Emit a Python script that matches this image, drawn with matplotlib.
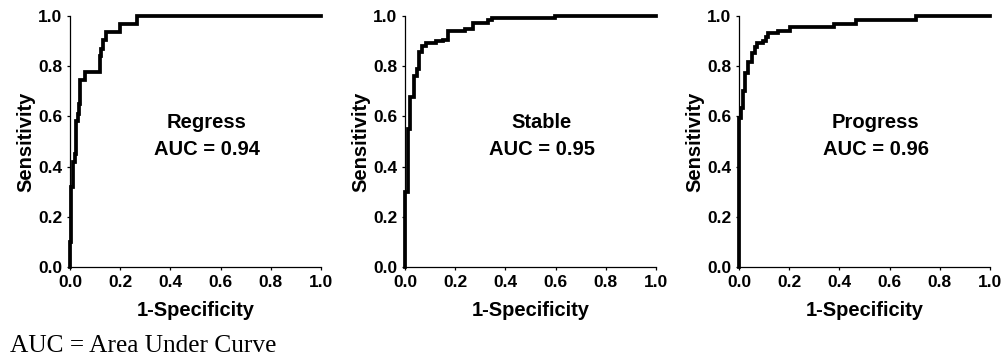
import numpy as np
import matplotlib.pyplot as plt

# ROC curves (1-specificity, sensitivity)
regress_fpr = [0, 0, 0.005, 0.005, 0.01, 0.01, 0.02, 0.02, 0.025, 0.025, 0.03, 0.03,
               0.035, 0.035, 0.04, 0.04, 0.06, 0.06, 0.12, 0.12, 0.125, 0.125, 0.13,
               0.13, 0.145, 0.145, 0.2, 0.2, 0.265, 0.265, 1.0]
regress_tpr = [0, 0.1, 0.1, 0.32, 0.32, 0.42, 0.42, 0.45, 0.45, 0.58, 0.58, 0.61,
               0.61, 0.65, 0.65, 0.745, 0.745, 0.775, 0.775, 0.84, 0.84, 0.87, 0.87,
               0.905, 0.905, 0.935, 0.935, 0.968, 0.968, 1.0, 1.0]

stable_fpr = [0, 0, 0.01, 0.01, 0.02, 0.02, 0.036, 0.036, 0.046, 0.046, 0.057, 0.057,
              0.066, 0.066, 0.082, 0.082, 0.124, 0.124, 0.15, 0.15, 0.173, 0.173,
              0.239, 0.239, 0.272, 0.272, 0.332, 0.332, 0.345, 0.345, 0.598, 0.598, 1.0]
stable_tpr = [0, 0.3, 0.3, 0.55, 0.55, 0.678, 0.678, 0.76, 0.76, 0.79, 0.79, 0.855,
              0.855, 0.882, 0.882, 0.893, 0.893, 0.9, 0.9, 0.905, 0.905, 0.94,
              0.94, 0.95, 0.95, 0.971, 0.971, 0.984, 0.984, 0.993, 0.993, 1.0, 1.0]

progress_fpr = [0, 0, 0.008, 0.008, 0.015, 0.015, 0.024, 0.024, 0.037, 0.037, 0.05, 0.05,
                0.064, 0.064, 0.073, 0.073, 0.097, 0.097, 0.108, 0.108, 0.117, 0.117,
                0.157, 0.157, 0.203, 0.203, 0.378, 0.378, 0.466, 0.466, 0.705, 0.705, 1.0]
progress_tpr = [0, 0.592, 0.592, 0.632, 0.632, 0.702, 0.702, 0.774, 0.774, 0.818, 0.818, 0.851,
                0.851, 0.875, 0.875, 0.891, 0.891, 0.9, 0.9, 0.917, 0.917, 0.931,
                0.931, 0.941, 0.941, 0.955, 0.955, 0.968, 0.968, 0.983, 0.983, 1.0, 1.0]

groups = ['Regress', 'Stable', 'Progress']
aucs = [0.94, 0.95, 0.96]
ticks = [0.0, 0.2, 0.4, 0.6, 0.8, 1.0]

curves = [(regress_fpr, regress_tpr), (stable_fpr, stable_tpr), (progress_fpr, progress_tpr)]
lefts = [70, 405, 739]

plt.rcParams['font.family'] = ['Liberation Sans', 'DejaVu Sans']
plt.rcParams['font.weight'] = 'bold'

fig = plt.figure(figsize=(10.04, 3.6), dpi=100)
W, H = 1004.0, 360.0

for i in range(3):
    ax = fig.add_axes([lefts[i] / W, (H - 267) / H, 251 / W, 251 / H])
    fpr, tpr = curves[i]
    ax.plot(fpr, tpr, color='black', lw=2.7, solid_joinstyle='miter', clip_on=False)
    ax.set_xlim(0, 1)
    ax.set_ylim(0, 1)
    ax.set_xticks(ticks)
    ax.set_yticks(ticks)
    ax.set_xticklabels(['%.1f' % t for t in ticks])
    ax.set_yticklabels(['%.1f' % t for t in ticks])
    for s in ['top', 'right']:
        ax.spines[s].set_visible(False)
    for s in ['left', 'bottom']:
        ax.spines[s].set_linewidth(0.9)
    ax.tick_params(direction='out', length=2.5, width=0.9, labelsize=12.5, pad=3)
    ax.set_xlabel('1-Specificity', fontsize=14.5, fontweight='bold', labelpad=8)
    ax.set_ylabel('Sensitivity', fontsize=14.5, fontweight='bold', labelpad=2)
    ax.text(0.545, 0.574, groups[i], fontsize=14.5, fontweight='bold',
            ha='center', va='center', transform=ax.transAxes)
    ax.text(0.545, 0.47, 'AUC = %.2f' % aucs[i], fontsize=14.5, fontweight='bold',
            ha='center', va='center', transform=ax.transAxes)

fig.text(10 / W, 1 - 352 / H, 'AUC = Area Under Curve', fontsize=18.3,
         family=['Liberation Serif', 'DejaVu Serif'], fontweight='normal',
         ha='left', va='baseline')

fig.savefig('out.png', dpi=100)
